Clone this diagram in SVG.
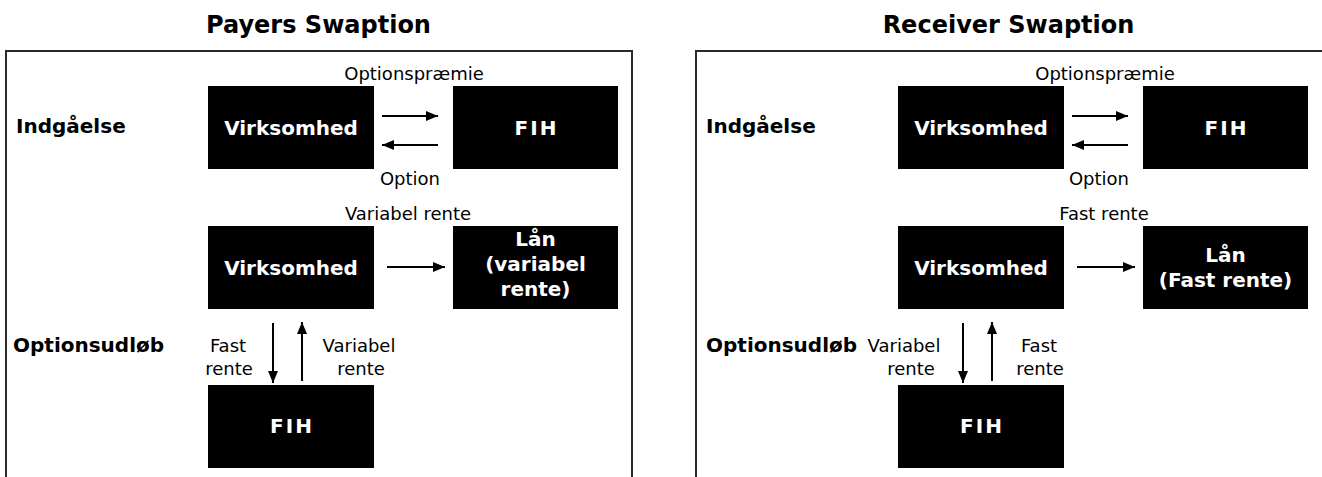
<svg xmlns="http://www.w3.org/2000/svg" width="1322" height="477" viewBox="0 0 1322 477">
<style>
.bg{fill:#fff}
.frame{fill:none;stroke:#2a2a2a;stroke-width:2}
.box{fill:#000}
.title{font-family:"DejaVu Sans",Verdana,sans-serif;font-weight:bold;font-size:24px;fill:#000;text-anchor:middle}
.hdr{font-family:"DejaVu Sans",Verdana,sans-serif;font-weight:bold;font-size:20px;fill:#000}
.bt{font-family:"DejaVu Sans",Verdana,sans-serif;font-weight:bold;font-size:20px;fill:#fff;text-anchor:middle}
.fih{letter-spacing:2px}
.lbl{font-family:"DejaVu Sans",Verdana,sans-serif;font-size:18px;fill:#000;text-anchor:middle}
.arr{stroke:#000;stroke-width:2;fill:none;marker-end:url(#ah)}
</style>
<defs>
<marker id="ah" markerUnits="userSpaceOnUse" markerWidth="12" markerHeight="10" refX="12" refY="5" orient="auto">
<path d="M0,0 L12,5 L0,10 Z" fill="#000"/>
</marker>
</defs>
<rect class="bg" x="0" y="0" width="1322" height="477"/>

<g id="payers-panel">
<text class="title" x="318.5" y="33">Payers Swaption</text>
<path class="frame" d="M6,477 V51 H632 V477"/>
<text class="hdr" x="16" y="133">Indgåelse</text>
<text class="hdr" x="13" y="352">Optionsudløb</text>
</g>

<g id="p-virk1"><rect class="box" x="208" y="86" width="166" height="83"/><text class="bt" x="291" y="135">Virksomhed</text></g>
<g id="p-fih1"><rect class="box" x="453" y="86" width="165" height="83"/><text class="bt fih" x="536.5" y="135">FIH</text></g>
<g id="p-virk2"><rect class="box" x="208" y="226" width="166" height="83"/><text class="bt" x="291" y="275">Virksomhed</text></g>
<g id="p-laan"><rect class="box" x="453" y="226" width="165" height="83"/><text class="bt" x="535.5" y="246">Lån</text><text class="bt" x="535.5" y="271">(variabel</text><text class="bt" x="535.5" y="296">rente)</text></g>
<g id="p-fih2"><rect class="box" x="208" y="385" width="166" height="83"/><text class="bt fih" x="292" y="433">FIH</text></g>

<g id="receiver-panel">
<text class="title" x="1008.5" y="33">Receiver Swaption</text>
<path class="frame" d="M696,477 V51 H1323"/>
<text class="hdr" x="706" y="133">Indgåelse</text>
<text class="hdr" x="706" y="352">Optionsudløb</text>
</g>

<g id="r-virk1"><rect class="box" x="898" y="86" width="166" height="83"/><text class="bt" x="981" y="135">Virksomhed</text></g>
<g id="r-fih1"><rect class="box" x="1143" y="86" width="165" height="83"/><text class="bt fih" x="1226.5" y="135">FIH</text></g>
<g id="r-virk2"><rect class="box" x="898" y="226" width="166" height="83"/><text class="bt" x="981" y="275">Virksomhed</text></g>
<g id="r-laan"><rect class="box" x="1143" y="226" width="165" height="83"/><text class="bt" x="1225.5" y="262">Lån</text><text class="bt" x="1225.5" y="287">(Fast rente)</text></g>
<g id="r-fih2"><rect class="box" x="898" y="385" width="166" height="83"/><text class="bt fih" x="982" y="433">FIH</text></g>

<g id="connectors">
<line class="arr" x1="382" y1="116" x2="438" y2="116"/>
<line class="arr" x1="438" y1="145" x2="382" y2="145"/>
<line class="arr" x1="387" y1="267" x2="445" y2="267"/>
<line class="arr" x1="273" y1="323" x2="273" y2="383"/>
<line class="arr" x1="302" y1="381" x2="302" y2="322"/>
<text class="lbl" x="414" y="80">Optionspræmie</text>
<text class="lbl" x="410" y="185">Option</text>
<text class="lbl" x="408" y="220">Variabel rente</text>
<text class="lbl" x="228" y="352">Fast</text>
<text class="lbl" x="229" y="375">rente</text>
<text class="lbl" x="359" y="352">Variabel</text>
<text class="lbl" x="361" y="375">rente</text>

<line class="arr" x1="1072" y1="116" x2="1128" y2="116"/>
<line class="arr" x1="1128" y1="145" x2="1072" y2="145"/>
<line class="arr" x1="1077" y1="267" x2="1135" y2="267"/>
<line class="arr" x1="963" y1="323" x2="963" y2="383"/>
<line class="arr" x1="992" y1="381" x2="992" y2="322"/>
<text class="lbl" x="1105" y="80">Optionspræmie</text>
<text class="lbl" x="1099" y="185">Option</text>
<text class="lbl" x="1104" y="220">Fast rente</text>
<text class="lbl" x="904" y="352">Variabel</text>
<text class="lbl" x="911" y="375">rente</text>
<text class="lbl" x="1039" y="352">Fast</text>
<text class="lbl" x="1040" y="375">rente</text>
</g>
</svg>
